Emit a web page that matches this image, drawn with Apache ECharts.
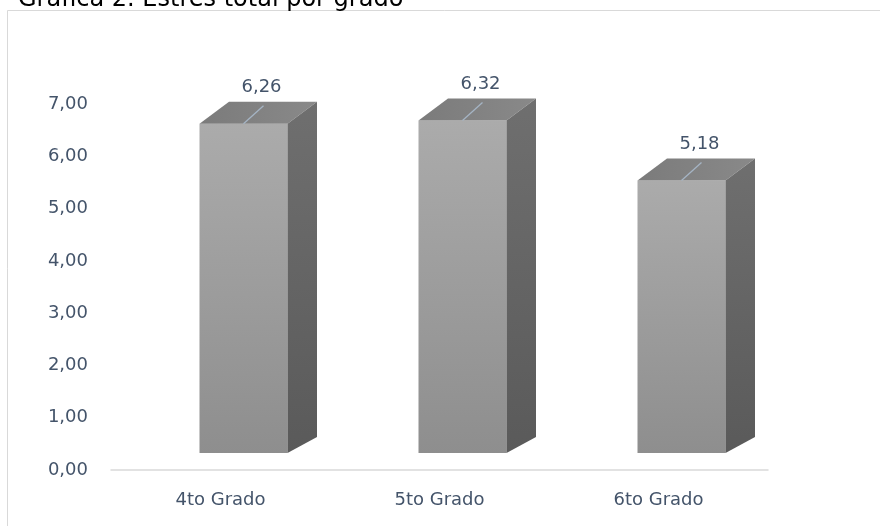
<!DOCTYPE html>
<html>
<head>
<meta charset="utf-8">
<script src="https://cdn.jsdelivr.net/npm/echarts@6/dist/echarts.min.js"></script>
<style>html,body{margin:0;padding:0;background:#fff;}#c{width:880px;height:526px;}</style>
</head>
<body>
<div id="c"></div>
<script>
const titleText = 'Gráfica 2. Estrés total por grado';
const categories = ['4to Grado', '5to Grado', '6to Grado'];
const values = [6.26, 6.32, 5.18];
const valueLabels = ['6,26', '6,32', '5,18'];
const yMin = 0, yMax = 7, yStep = 1;

const FONT = 'DejaVu Sans';
const TXT = '#44546a';

const chart = echarts.init(document.getElementById('c'), null, {renderer: 'canvas'});

function renderBar(params, api) {
  const idx = api.value(0);
  const c0 = api.coord([idx, 0]);
  const c1 = api.coord([idx, api.value(1)]);
  const cx = c0[0] + 23;
  const w = 88;
  const xL = cx - w / 2, xR = cx + w / 2;
  const yB = c0[1] - 17;
  const yT = yB - (c0[1] - c1[1]) * 1.006;
  const dx = 29.5, dyT = 22, dyB = 16;
  return {
    type: 'group',
    children: [
      {
        type: 'rect',
        shape: {x: xL, y: yT, width: w, height: yB - yT},
        style: {fill: new echarts.graphic.LinearGradient(0, 0, 0, 1, [
          {offset: 0, color: '#ababab'}, {offset: 1, color: '#8e8e8e'}])}
      },
      {
        type: 'polygon',
        shape: {points: [[xL, yT], [xR, yT], [xR + dx, yT - dyT], [xL + dx, yT - dyT]]},
        style: {fill: new echarts.graphic.LinearGradient(0, 0, 1, 0, [
          {offset: 0, color: '#7b7b7b'}, {offset: 1, color: '#898989'}])}
      },
      {
        type: 'polygon',
        shape: {points: [[xR, yT], [xR + dx, yT - dyT], [xR + dx, yB - dyB], [xR, yB]]},
        style: {fill: new echarts.graphic.LinearGradient(0, 0, 0, 1, [
          {offset: 0, color: '#6f6f6f'}, {offset: 1, color: '#5a5a5a'}])}
      },
      {
        type: 'line',
        shape: {x1: cx, y1: yT, x2: cx + 20, y2: yT - 18},
        style: {stroke: '#a5b4c4', lineWidth: 1.3}
      },
      {
        type: 'text',
        style: {
          x: cx + 18, y: yT - 36,
          text: valueLabels[idx],
          font: '18px "' + FONT + '"',
          fill: TXT, align: 'center', verticalAlign: 'middle'
        }
      }
    ]
  };
}

chart.setOption({
  animation: false,
  backgroundColor: '#fff',
  graphic: [
    {
      type: 'rect', silent: true, z: -1,
      shape: {x: 7.5, y: 10.5, width: 920, height: 620},
      style: {fill: '#fff', stroke: '#d9d9d9', lineWidth: 1}
    },
    {
      type: 'text', silent: true,
      style: {x: 18, y: 0, text: titleText, font: '24px "' + FONT + '"', fill: '#000', verticalAlign: 'middle'}
    }
  ],
  grid: {left: 111, right: 112, top: 104, bottom: 56, containLabel: false},
  xAxis: {
    type: 'category',
    data: categories,
    axisLine: {show: true, lineStyle: {color: '#d9d9d9', width: 1.5}},
    axisTick: {show: false},
    axisLabel: {fontFamily: FONT, fontSize: 18, color: TXT, margin: 21},
    splitLine: {show: false}
  },
  yAxis: {
    type: 'value',
    min: yMin, max: yMax, interval: yStep,
    axisLine: {show: false},
    axisTick: {show: false},
    splitLine: {show: false},
    axisLabel: {
      fontFamily: FONT, fontSize: 18, color: TXT, margin: 23,
      formatter: v => v.toFixed(2).replace('.', ',')
    }
  },
  series: [{
    type: 'custom',
    renderItem: renderBar,
    data: values.map((v, i) => [i, v]),
    clip: false
  }]
});
</script>
</body>
</html>
